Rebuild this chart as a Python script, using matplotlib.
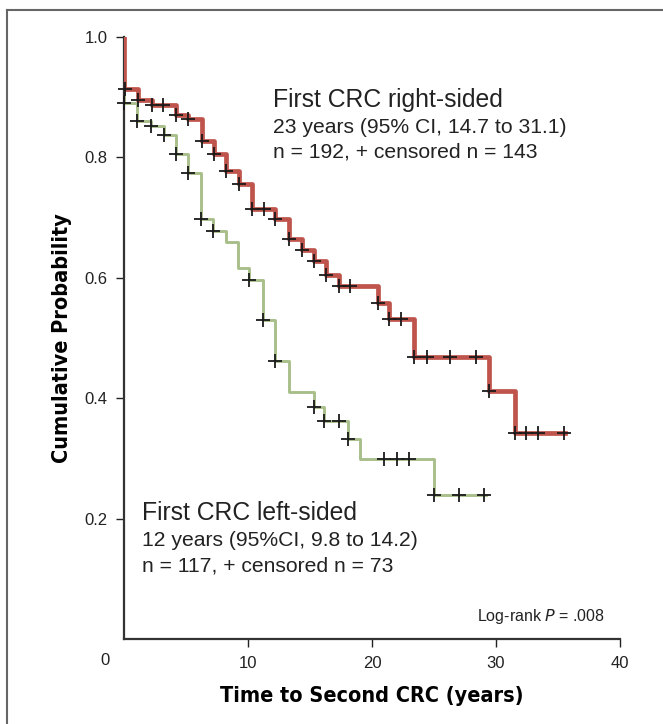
import numpy as np
import matplotlib.pyplot as plt
from matplotlib.lines import Line2D

# Kaplan-Meier steps (years, cumulative probability)
right_t = [0, 0, 1.15, 2.25, 4.2, 5.2, 6.3, 7.25, 8.25, 9.25, 10.3, 12.2, 13.3, 14.35,
           15.3, 16.3, 17.3, 20.45, 21.35, 23.35, 29.4, 31.5, 35.6]
right_s = [1.0, 0.913, 0.896, 0.887, 0.870, 0.863, 0.827, 0.805, 0.777, 0.755, 0.714, 0.697,
           0.664, 0.647, 0.628, 0.605, 0.586, 0.558, 0.532, 0.468, 0.412, 0.342, 0.342]
right_cens = [0.1, 1.15, 2.25, 3.15, 4.2, 5.2, 6.3, 7.25, 8.25, 9.25, 10.3, 11.3, 12.2, 13.3,
              14.35, 15.3, 16.3, 17.3, 18.2, 20.45, 21.35, 22.3, 23.35, 24.4, 26.3, 28.4,
              29.4, 31.5, 32.4, 33.4, 35.5]

left_t = [0, 0, 1.05, 2.2, 3.2, 4.2, 5.2, 6.2, 7.2, 8.2, 9.2, 10.1, 11.2, 12.2, 13.3, 15.3,
          16.1, 18.1, 19.0, 25.0, 29.2]
left_s = [1.0, 0.890, 0.861, 0.852, 0.838, 0.806, 0.774, 0.698, 0.678, 0.659, 0.616, 0.597,
          0.530, 0.462, 0.410, 0.386, 0.362, 0.332, 0.299, 0.240, 0.240]
left_cens = [0.0, 1.05, 2.2, 3.2, 4.2, 5.2, 6.2, 7.2, 10.1, 11.2, 12.2, 15.3, 16.1, 17.3,
             18.1, 21.0, 22.0, 23.0, 25.0, 27.0, 29.0]

RED = "#bf544d"
GREEN = "#a9bf8a"
INK = "#222222"


def step_at(ts, ss, tc):
    ts = np.asarray(ts)
    ss = np.asarray(ss)
    idx = np.searchsorted(ts, tc, side="right") - 1
    return ss[np.clip(idx, 0, len(ss) - 1)]


sans = ["Liberation Sans", "DejaVu Sans"]
plt.rcParams["font.family"] = sans

fig = plt.figure(figsize=(6.63, 7.24), dpi=100)
ax = fig.add_axes([124 / 663, 1 - 639 / 724, (620 - 124) / 663, (639 - 37) / 724])

ax.step(left_t, left_s, where="post", color=GREEN, lw=2.1, zorder=2)
ax.step(right_t, right_s, where="post", color=RED, lw=3.4, zorder=3)
ax.plot(left_cens, step_at(left_t, left_s, left_cens), ls="none", marker="+",
        ms=10, mew=1.3, color="#1a1a1a", zorder=4, clip_on=False)
ax.plot(right_cens, step_at(right_t, right_s, right_cens), ls="none", marker="+",
        ms=10, mew=1.3, color="#1a1a1a", zorder=4, clip_on=False)

ax.set_xlim(0, 40)
ax.set_ylim(0, 1.0)
ax.set_xticks([10, 20, 30, 40])
ax.set_yticks([0.2, 0.4, 0.6, 0.8, 1.0])
ax.set_yticklabels(["0.2", "0.4", "0.6", "0.8", "1.0"])
for s in ["top", "right"]:
    ax.spines[s].set_visible(False)
for s in ["left", "bottom"]:
    ax.spines[s].set_linewidth(1.6)
    ax.spines[s].set_color("#333333")
ax.tick_params(direction="out", length=6, width=1.0, labelsize=12, colors=INK, pad=6)
ax.text(-1.55, -0.036, "0", ha="center", va="center", fontsize=12, color=INK,
        transform=ax.transData, clip_on=False)

ax.set_xlabel("Time to Second CRC (years)", fontsize=15.5, fontweight="bold",
              family="DejaVu Sans", fontstretch="condensed", labelpad=11)
ax.set_ylabel("Cumulative Probability", fontsize=15.5, fontweight="bold",
              family="DejaVu Sans", fontstretch="condensed", labelpad=9)

ax.text(12.0, 0.895, "First CRC right-sided", fontsize=17.8, color=INK, va="center")
ax.text(12.0, 0.850, "23 years (95% CI, 14.7 to 31.1)", fontsize=15.2, color=INK, va="center")
ax.text(12.0, 0.809, "n = 192, + censored n = 143", fontsize=15.2, color=INK, va="center")
ax.text(1.45, 0.209, "First CRC left-sided", fontsize=17.8, color=INK, va="center")
ax.text(1.45, 0.163, "12 years (95%CI, 9.8 to 14.2)", fontsize=15.2, color=INK, va="center")
ax.text(1.45, 0.121, "n = 117, + censored n = 73", fontsize=15.2, color=INK, va="center")
ax.text(38.8, 0.037, "Log-rank $\\it{P}$ = .008", fontsize=11.5, ha="right", color=INK,
        va="center")

# page frame lines (top and left)
fig.add_artist(Line2D([7 / 663, 1], [1 - 10 / 724, 1 - 10 / 724], color="#666666", lw=1.5))
fig.add_artist(Line2D([7 / 663, 7 / 663], [0, 1 - 10 / 724], color="#666666", lw=1.5))

fig.savefig("out.png", dpi=100)
